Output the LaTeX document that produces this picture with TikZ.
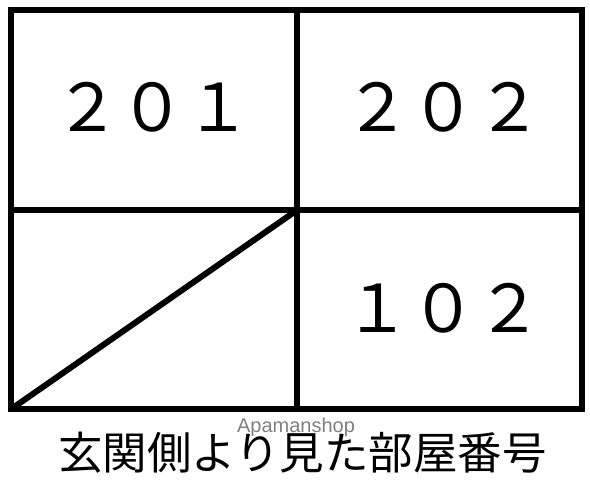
\documentclass[tikz,border=0pt]{standalone}
\usepackage{fontspec}
\newfontfamily\cjk{Noto Sans CJK JP}
\setsansfont{Liberation Sans}
\begin{document}
\begin{tikzpicture}[x=1pt,y=1pt,
  wall/.style={line width=6pt, line cap=rect, line join=miter},
  roomnum/.style={inner sep=0pt, anchor=base, font=\cjk\fontsize{66}{70}\selectfont},
  caption/.style={inner sep=0pt, anchor=base, font=\cjk\fontsize{44.5}{50}\selectfont},
  wmark/.style={inner sep=0pt, anchor=base, text=black!50, font=\sffamily\fontsize{20}{22}\selectfont}]
\useasboundingbox (0,0) rectangle (590,480);
\fill[white] (0,0) rectangle (590,480);
\coordinate (bl) at (10.5,70.5);
\coordinate (tr) at (581.5,470);
\coordinate (c) at (296.5,269.5);
\coordinate (ml) at (10.5,269.5);
\coordinate (mr) at (581.5,269.5);
\coordinate (mt) at (296.5,470);
\coordinate (mb) at (296.5,70.5);
\draw[wall] (bl) rectangle (tr);
\draw[wall] (ml) -- (mr);
\draw[wall] (mt) -- (mb);
\draw[wall, line cap=butt] (bl) -- (c);
\node[roomnum] (r201) at (153,348) {２０１};
\node[roomnum] (r202) at (443,348) {２０２};
\node[roomnum] (r102) at (443,147) {１０２};
\node[caption] (cap) at (302.5,10) {玄関側より見た部屋番号};
\node[wmark] (wm) at (296,47) {Apamanshop};
\end{tikzpicture}
\end{document}
